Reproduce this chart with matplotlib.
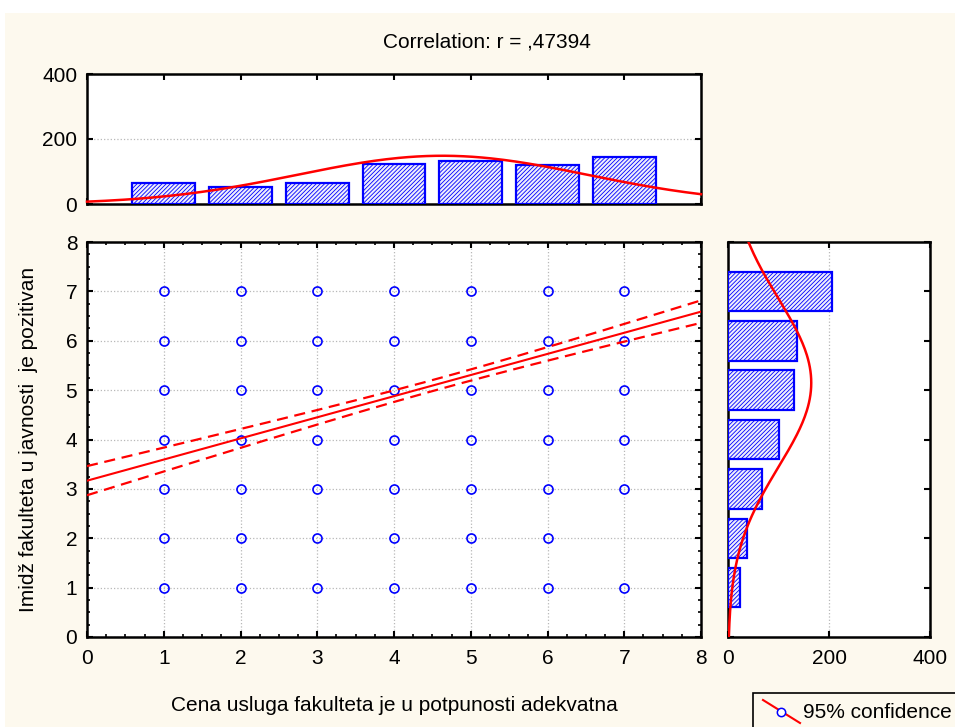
import numpy as np
import matplotlib
matplotlib.use("Agg")
import matplotlib.pyplot as plt
from matplotlib.patches import Rectangle
from matplotlib.lines import Line2D
from matplotlib.ticker import MultipleLocator

plt.rcParams['font.family'] = ['Liberation Sans', 'DejaVu Sans']
plt.rcParams['hatch.linewidth'] = 0.6

# data
categories = [1, 2, 3, 4, 5, 6, 7]
x_counts = [65, 52, 65, 123, 132, 120, 145]   # Cena usluga ... (top histogram)
y_counts = [24, 38, 67, 101, 131, 137, 206]   # Imidž fakulteta ... (right histogram)
r_value = 0.47394
scatter_x = [1]*7 + [2]*7 + [3]*7 + [4]*7 + [5]*7 + [6]*7 + [7]*6
scatter_y = [1, 2, 3, 4, 5, 6, 7]*6 + [1, 3, 4, 5, 6, 7]
title = "Correlation: r = ,47394"
xlabel = "Cena usluga fakulteta je u potpunosti adekvatna"
ylabel = "Imidž fakulteta u javnosti  je pozitivan"
legend_label = "95% confidence"

cats = np.array(categories, dtype=float)
xc = np.array(x_counts, dtype=float)
yc = np.array(y_counts, dtype=float)
n = xc.sum()
mx = (cats*xc).sum()/xc.sum()
sx = np.sqrt(((cats-mx)**2*xc).sum()/(xc.sum()-1))
my = (cats*yc).sum()/yc.sum()
sy = np.sqrt(((cats-my)**2*yc).sum()/(yc.sum()-1))

slope = r_value*sy/sx
intercept = my - slope*mx
s_res = sy*np.sqrt(1-r_value**2)*np.sqrt((n-1)/(n-2))
sxx = (n-1)*sx**2

W, H = 955, 727
cream = '#fdf9ee'
blue = '#0000ff'
fs = 15

fig = plt.figure(figsize=(W/100, H/100), dpi=100, facecolor='white')
fig.patches.append(Rectangle((5/W, 0), 1, 1-13/H, transform=fig.transFigure,
                             facecolor=cream, edgecolor='none', zorder=-10))

def frac(l, t, r, b):
    return [l/W, 1-b/H, (r-l)/W, (b-t)/H]

ax = fig.add_axes(frac(87, 242, 701, 637))
axt = fig.add_axes(frac(87, 74, 701, 204))
axr = fig.add_axes(frac(728, 242, 930, 637))

for a in (ax, axt, axr):
    for s in a.spines.values():
        s.set_linewidth(1.8)
    a.tick_params(which='both', direction='in', top=True, right=True,
                  labelsize=fs, width=1.5, colors='black')
    a.tick_params(which='major', length=4.5)
    a.tick_params(which='minor', length=2.5, width=1.2)
    a.tick_params(axis='x', pad=9)
    a.tick_params(axis='y', pad=7)

# main scatter
ax.set_xlim(0, 8)
ax.set_ylim(0, 8)
ax.xaxis.set_major_locator(MultipleLocator(1))
ax.yaxis.set_major_locator(MultipleLocator(1))
ax.xaxis.set_minor_locator(MultipleLocator(0.25))
ax.yaxis.set_minor_locator(MultipleLocator(0.25))
ax.grid(True, which='major', color='#b8b8b8', linestyle=':', linewidth=0.9)
ax.set_axisbelow(True)
ax.plot(scatter_x, scatter_y, 'o', mfc='none', mec=blue, ms=6.5, mew=1.2, zorder=3)

xx = np.linspace(0, 8, 200)
fit = intercept + slope*xx
ci = 1.963*s_res*np.sqrt(1/n + (xx-mx)**2/sxx)
ax.plot(xx, fit, color='red', lw=1.5, zorder=4)
ax.plot(xx, fit+ci, color='red', lw=1.6, ls=(0, (5, 3)), zorder=4)
ax.plot(xx, fit-ci, color='red', lw=1.6, ls=(0, (5, 3)), zorder=4)
ax.set_xlabel(xlabel, fontsize=fs, labelpad=20)
ax.set_ylabel(ylabel, fontsize=fs, labelpad=20)

# top histogram
axt.bar(categories, x_counts, width=0.82, facecolor='#eeeefc', edgecolor=blue,
        hatch='////////', linewidth=1.6, zorder=3)
axt.set_xlim(0, 8)
axt.set_ylim(0, 400)
axt.set_xticks(range(0, 9))
axt.set_yticks([0, 200, 400])
axt.tick_params(labelbottom=False)
axt.grid(True, axis='y', color='#b8b8b8', linestyle=':', linewidth=0.9)
axt.set_axisbelow(True)
xs = np.linspace(0, 8, 200)
axt.plot(xs, n*np.exp(-(xs-mx)**2/(2*sx**2))/(sx*np.sqrt(2*np.pi)),
         color='red', lw=1.8, zorder=4, clip_on=False)

# right histogram
ny = yc.sum()
axr.barh(categories, y_counts, height=0.8, facecolor='#eeeefc', edgecolor=blue,
         hatch='////////', linewidth=1.6, zorder=3)
axr.set_xlim(0, 400)
axr.set_ylim(0, 8)
axr.set_xticks([0, 200, 400])
axr.set_yticks(range(0, 9))
axr.tick_params(labelleft=False)
axr.grid(True, axis='x', color='#b8b8b8', linestyle=':', linewidth=0.9)
axr.set_axisbelow(True)
ys = np.linspace(0, 8, 200)
axr.plot(ny*np.exp(-(ys-my)**2/(2*sy**2))/(sy*np.sqrt(2*np.pi)), ys,
         color='red', lw=1.8, zorder=4)

fig.text(487/W, 1-42/H, title, ha='center', va='center', fontsize=fs)

# legend box (partly cut off at the edge, as in the original)
fig.patches.append(Rectangle((753/W, -0.01), 0.3, 0.01+(727-693)/H,
                             transform=fig.transFigure, facecolor=cream,
                             edgecolor='black', linewidth=1.2))
fig.lines.append(Line2D([763/W, 800/W], [1-700/H, 1-723/H], transform=fig.transFigure,
                        color='red', lw=1.5))
fig.lines.append(Line2D([781/W], [1-712/H], transform=fig.transFigure, marker='o',
                        mfc='white', mec=blue, ms=6, mew=1.1))
fig.text(803/W, 1-712/H, legend_label, ha='left', va='center', fontsize=fs)

fig.savefig('out.png', dpi=100, facecolor=fig.get_facecolor())
